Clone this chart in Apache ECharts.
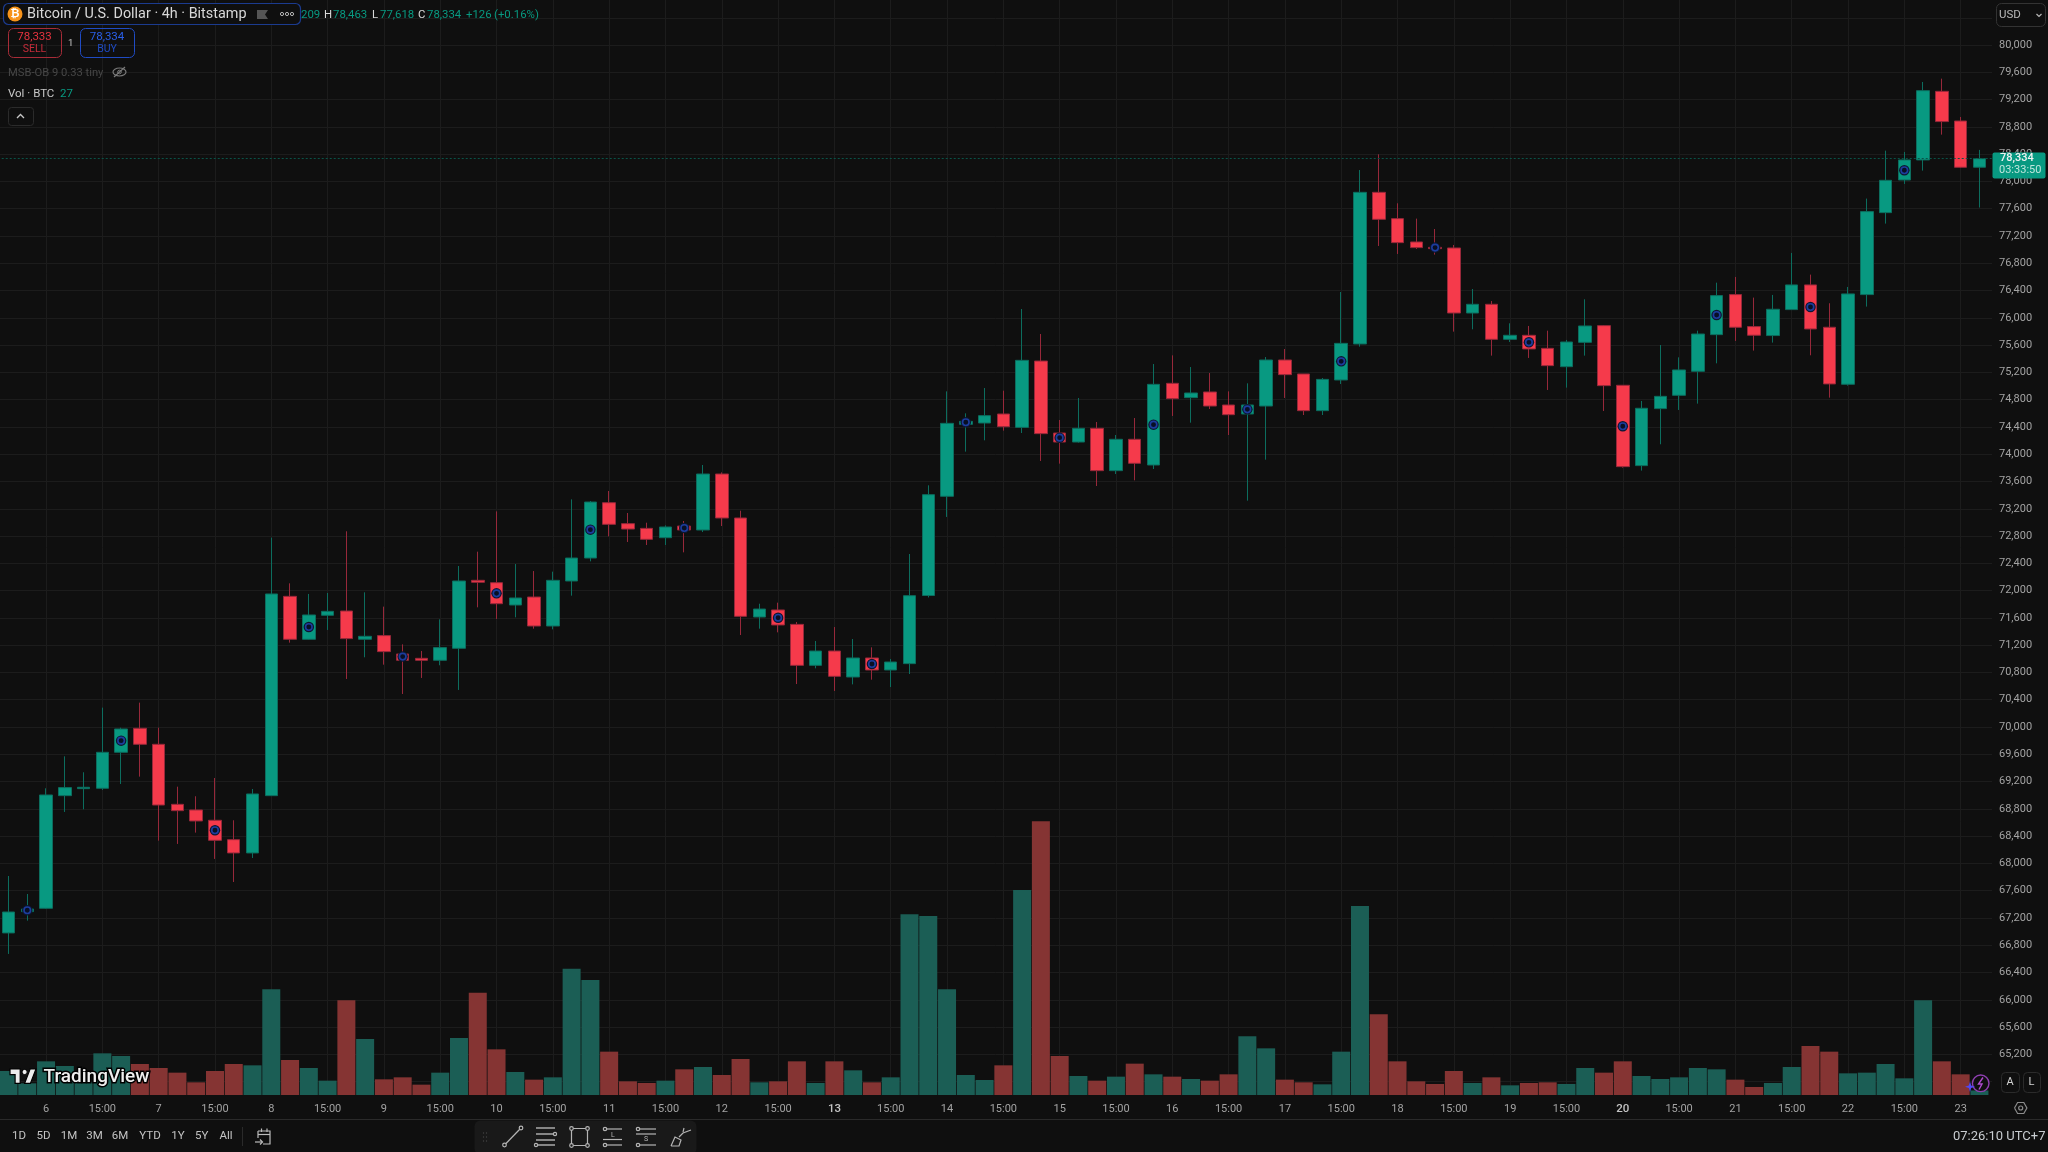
<!DOCTYPE html>
<html>
<head>
<meta charset="utf-8">
<title>Bitcoin / U.S. Dollar 4h</title>
<script src="https://cdn.jsdelivr.net/npm/echarts@6/dist/echarts.min.js"></script>
<style>
html,body{margin:0;padding:0;background:#0f0f0f;}
#chart{width:2048px;height:1152px;}
</style>
</head>
<body>
<div id="chart"></div>
<script>
// 4h BTC/USD bars, oldest first
const opens = [
66980,67292,67341,68993,69096,69101,69629,69981,69746,68866,
68783,68632,68348,68153,68993,71916,71286,71638,71701,71286,
71340,71071,71007,70978,71154,72151,72116,71789,71906,71481,
72141,72478,73289,72982,72913,72776,72947,72889,73710,73065,
71613,71716,71505,70904,71114,70733,71012,70836,70929,71928,
73383,74438,74458,74590,74394,75367,74311,74179,74380,73759,
74219,73842,75040,74830,74913,74722,74590,74707,75382,75177,
74639,75089,75617,77841,77455,77113,77034,77025,76071,76199,
75685,75744,75553,75284,75641,75886,75011,73833,74669,74864,
75216,75754,76341,75872,75740,76121,76483,75862,75026,76341,
77543,78022,78316,79322,78887,78209];
const closes = [
67287,67331,69003,69111,69116,69629,69971,69746,68856,68773,
68622,68338,68153,69018,71951,71286,71643,71696,71296,71330,
71105,70978,70978,71164,72141,72122,71808,71892,71481,72151,
72478,73299,72972,72903,72752,72933,72889,73710,73065,71623,
71730,71496,70904,71114,70743,71012,70836,70953,71926,73407,
74453,74482,74566,74404,75377,74302,74179,74380,73759,74219,
73867,75025,74815,74898,74707,74580,74722,75382,75167,74639,
75098,75626,77841,77445,77103,77030,77015,76071,76199,75685,
75744,75544,75299,75646,75881,75006,73818,74674,74849,75236,
75763,76326,75862,75745,76126,76483,75837,75031,76351,77558,
78017,78316,79332,78878,78208,78334];
const lows = [
66672,67160,67331,68754,68793,69076,69164,69272,68333,68285,
68451,68065,67727,68079,68990,71237,71280,71423,70704,71022,
70914,70484,70719,70905,70543,71755,71584,71608,71442,71432,
71926,72429,72796,72713,72669,72669,72561,72859,72947,71349,
71442,71388,70630,70860,70528,70625,70694,70586,70777,71900,
73080,74038,74204,74346,74311,73901,73862,74170,73534,73710,
73617,73783,74561,74463,74663,74282,73319,73920,74825,74575,
74575,75030,75578,77054,76937,77010,76927,75798,75832,75446,
75646,75412,74942,74977,75446,74634,73803,73760,74146,74649,
74742,75333,75661,75520,75637,76121,75451,74830,75006,76165,
77382,77964,78159,78687,78198,77618];
const highs = [
67815,67551,69101,69570,69336,70284,69990,70357,69990,69125,
68984,69252,68632,69091,72777,72107,71951,71965,72870,71975,
71765,71212,71115,71579,72361,72571,73162,72390,72287,72278,
73338,73314,73461,73138,72996,72957,73021,73842,73734,73172,
71808,71823,71540,71261,71466,71290,71168,70997,72537,73544,
74922,74600,74971,74932,76130,75763,74502,74825,74473,74282,
74531,75323,75450,75279,75191,74922,75040,75426,75543,75177,
75118,76379,78168,78398,77680,77455,77303,77069,76423,76247,
75920,75881,75812,75676,76272,75895,75011,74781,75602,75421,
75812,76516,76600,76297,76336,76952,76634,76214,76453,77749,
78452,78433,79459,79508,78946,78463];
const volumes = [
144,70,202,174,76,250,234,186,162,134,
76,144,186,178,634,210,162,86,568,336,
94,106,62,134,342,614,274,138,92,106,
758,690,260,82,72,86,154,168,120,216,
76,82,202,72,202,148,76,106,1084,1074,
634,120,90,178,1230,1642,234,114,86,110,
188,124,110,96,86,124,352,280,92,76,
64,260,1134,484,202,82,66,144,72,106,
58,72,76,66,162,134,202,114,96,106,
162,154,92,48,72,168,294,260,130,134,
186,100,568,202,124,27];
// MSB-OB study markers: bar index and price
const markerBars = [1,6,11,16,21,26,31,36,41,46,51,56,61,66,71,76,81,86,91,96,101];
const markerPrices = [67313,69800,68485,71467,71032,71960,72894,72918,71603,70924,74468,74243,74434,74658,75362,77030,75641,74410,76042,76160,78164];
// time-scale labels, one every third bar starting at bar 2
const tickLabels = ['6','15:00','7','15:00','8','15:00','9','15:00','10','15:00','11','15:00','12','15:00','13','15:00','14','15:00','15','15:00','16','15:00','17','15:00','18','15:00','19','15:00','20','15:00','21','15:00','22','15:00','23'];
const boldTicks = ['13','20'];
const lastPrice = 78334;

const UP = '#089981', DOWN = '#F53A4B', UP_EDGE = '#0C6D5E', DOWN_EDGE = '#97283A';
const VOL_UP = '#1B5E55', VOL_DOWN = '#853433';
const FONT = 'Roboto, sans-serif';

// bar i sits at x = i + 1 so the 12h ticks land on multiples of 3
const pos = i => i + 1;
const candleData = opens.map((o, i) => [pos(i), o, closes[i], lows[i], highs[i]]);
const volumeData = volumes.map((v, i) => ({
  value: [pos(i), v],
  itemStyle: { color: closes[i] >= opens[i] ? VOL_UP : VOL_DOWN }
}));
const markerData = markerBars.map((b, i) => [pos(b), markerPrices[i]]);

// ---- chrome helpers ----
const Z = 100;
const txt = (x, y, text, fill, size, extra = {}) => ({
  type: 'text', x, y, z: Z + 2, silent: true,
  style: { text, fill, font: `${extra.weight || 'normal'} ${size}px ${FONT}`,
           textAlign: extra.align || 'left', textVerticalAlign: 'middle',
           stroke: extra.stroke, lineWidth: extra.lw }
});
const box = (x, y, w, h, r, fill, stroke, lw = 1, z = Z) => ({
  type: 'rect', z, silent: true, shape: { x: x + .5, y: y + .5, width: w, height: h, r },
  style: { fill: fill || 'none', stroke: stroke || 'none', lineWidth: lw }
});
const poly = (pts, stroke, lw = 1.2, fill) => ({
  type: fill ? 'polygon' : 'polyline', z: Z + 1, silent: true, shape: { points: pts },
  style: { stroke, lineWidth: lw, fill: fill || 'none' }
});
const dot = (x, y, r, fill, stroke, lw = 1.2) => ({
  type: 'circle', z: Z + 1, silent: true, shape: { cx: x, cy: y, r },
  style: { fill: fill || 'none', stroke: stroke || 'none', lineWidth: lw }
});
const hline = (x1, x2, y, stroke, lw = 1, z = Z) => ({
  type: 'line', z, silent: true, shape: { x1, y1: y, x2, y2: y }, style: { stroke, lineWidth: lw }
});

const gfx = [];
// symbol header
gfx.push(box(3, 3, 297, 21, 5, '#0f0f0f', '#1B3B8F', 1.2));
gfx.push(dot(15, 14, 7.5, '#F7931A'));
gfx.push(txt(15, 14.5, '₿', '#fff', 11, { align: 'center', weight: 'bold' }));
gfx.push(txt(27, 14.8, 'Bitcoin / U.S. Dollar · 4h · Bitstamp', '#D9D9D9', 14.4));
gfx.push(poly([[257, 10], [268, 10], [265, 14.5], [268, 19], [257, 19]], 'none', 0, '#555'));
[282, 287, 292].forEach(x => gfx.push(dot(x, 14, 1.6, null, '#B5B5B5', 1)));
gfx.push(txt(301, 14.8, '209', UP, 11.4));
gfx.push(txt(324, 14.8, 'H', '#D9D9D9', 11.4));
gfx.push(txt(333, 14.8, '78,463', UP, 11.4));
gfx.push(txt(372, 14.8, 'L', '#D9D9D9', 11.4));
gfx.push(txt(380, 14.8, '77,618', UP, 11.4));
gfx.push(txt(418, 14.8, 'C', '#D9D9D9', 11.4));
gfx.push(txt(427, 14.8, '78,334', UP, 11.4));
gfx.push(txt(466, 14.8, '+126', UP, 11.4));
gfx.push(txt(494, 14.8, '(+0.16%)', UP, 11.4));
// order buttons
gfx.push(box(8, 28, 53, 29, 5, null, '#A82C38', 1));
gfx.push(txt(34.5, 37.5, '78,333', '#E5333F', 11.5, { align: 'center' }));
gfx.push(txt(34.5, 49.5, 'SELL', '#C52C3A', 10.5, { align: 'center' }));
gfx.push(txt(70.7, 44, '1', '#C8C8C8', 9.5, { align: 'center' }));
gfx.push(box(80, 28, 54, 29, 5, null, '#1F4BC4', 1));
gfx.push(txt(107, 37.5, '78,334', '#2A5FE8', 11.5, { align: 'center' }));
gfx.push(txt(107, 49.5, 'BUY', '#1F4BC4', 10.5, { align: 'center' }));
// study legend
gfx.push(txt(8, 73, 'MSB-OB 9 0.33 tiny', '#474747', 11.2));
gfx.push({ type: 'ellipse', z: Z + 1, silent: true, shape: { cx: 119.5, cy: 72, rx: 6.5, ry: 4 }, style: { fill: 'none', stroke: '#7A7A7A', lineWidth: 1.2 } });
gfx.push(dot(119.5, 72, 1.8, null, '#7A7A7A', 1));
gfx.push(poly([[114, 77], [125, 67]], '#7A7A7A', 1.2));
gfx.push(txt(8, 94, 'Vol · BTC', '#C8C8C8', 11.5));
gfx.push(txt(60, 94, '27', UP, 11.5));
gfx.push(box(8, 107, 25, 18, 3, null, '#2B2B2B', 1));
gfx.push(poly([[17, 118], [20.5, 114.5], [24, 118]], '#C8C8C8', 1.3));
// currency selector
gfx.push(box(1996, 3, 49, 23, 5, '#0f0f0f', '#333', 1));
gfx.push(txt(1999, 15, 'USD', '#B8B8B8', 11.5));
gfx.push(poly([[2036.5, 14], [2039, 16.5], [2041.5, 14]], '#B8B8B8', 1.2));
// last price tag
gfx.push(box(1992, 152, 53, 26, 2, UP, null));
gfx.push(txt(2000, 158.5, '78,334', '#F2F2F2', 11, { weight: '500' }));
gfx.push(txt(1999, 170.5, '03:33:50', '#BFE6DD', 11));
// watermark
gfx.push(poly([[10, 1069], [20.2, 1069], [20.2, 1083.4], [15.1, 1083.4], [15.1, 1074.6], [10, 1074.6]], '#000', 1.2, '#EDEDED'));
gfx.push(poly([[24.6, 1083.4], [30.1, 1069], [36, 1069], [30.4, 1083.4]], '#000', 1.2, '#EDEDED'));
gfx.push(dot(24.6, 1072, 2.6, '#EDEDED', '#000', 1));
gfx.push(txt(43.5, 1077, 'TradingView', '#EFEFEF', 19, { weight: '500', stroke: '#000', lw: 3 }));
// scale buttons
gfx.push(box(2001, 1072, 18, 20, 4, null, '#2B2B2B', 1));
gfx.push(txt(2010, 1082.5, 'A', '#D4D4D4', 11, { align: 'center' }));
gfx.push(box(2023, 1072, 17, 20, 4, null, '#2B2B2B', 1));
gfx.push(txt(2031.5, 1082.5, 'L', '#D4D4D4', 11, { align: 'center' }));
gfx.push(poly([[2014.5, 1108], [2017.6, 1102.5], [2023.8, 1102.5], [2026.9, 1108], [2023.8, 1113.5], [2017.6, 1113.5], [2014.5, 1108]], '#8C8C8C', 1.2));
gfx.push(dot(2020.7, 1108, 2, null, '#8C8C8C', 1.2));
// assistant badge over the newest volume bar
gfx.push(dot(1980.7, 1083.3, 8.3, '#0f0f0f', '#8E3FB0', 1.4));
gfx.push(poly([[1983, 1077.5], [1978.5, 1084], [1982, 1084], [1979, 1089.5]], '#B04CD0', 1.4));
gfx.push(poly([[1970, 1081.5], [1971.2, 1085.4], [1975, 1086.7], [1971.2, 1088], [1970, 1092], [1968.8, 1088], [1965, 1086.7], [1968.8, 1085.4]], 'none', 0, '#5148F0'));
// footer
gfx.push(hline(0, 2048, 1119.5, '#2A2A2A'));
[['1D', 19], ['5D', 43.6], ['1M', 69], ['3M', 94.6], ['6M', 120], ['YTD', 150], ['1Y', 178], ['5Y', 201.6], ['All', 226]]
  .forEach(([t, x]) => gfx.push(txt(x, 1136.5, t, '#C4C4C4', 11.5, { align: 'center' })));
gfx.push({ type: 'line', z: Z, silent: true, shape: { x1: 242.5, y1: 1127, x2: 242.5, y2: 1146 }, style: { stroke: '#2A2A2A', lineWidth: 1 } });
gfx.push(poly([[258, 1131], [270, 1131], [270, 1144], [263, 1144]], '#BDBDBD', 1.2));
gfx.push(poly([[258, 1138], [258, 1131]], '#BDBDBD', 1.2));
gfx.push(poly([[258, 1134.5], [270, 1134.5]], '#BDBDBD', 1.2));
gfx.push(poly([[255, 1142], [262, 1142]], '#BDBDBD', 1.2));
gfx.push(poly([[260, 1139.5], [262.5, 1142], [260, 1144.5]], '#BDBDBD', 1.2));
gfx.push(poly([[261.5, 1128.5], [261.5, 1132]], '#BDBDBD', 1.2));
gfx.push(poly([[267, 1128.5], [267, 1132]], '#BDBDBD', 1.2));
gfx.push(txt(1953, 1136.5, '07:26:10 UTC+7', '#C8CCD0', 13));
// drawing toolbar
gfx.push(box(474, 1120, 222, 34, 6, '#191919', null, 0));
[1133, 1137, 1141].forEach(y => { gfx.push(dot(483.5, y, .7, '#444')); gfx.push(dot(486.5, y, .7, '#444')); });
const IC = '#B5B5B5';
gfx.push(poly([[505.5, 1144], [520, 1129]], IC)); gfx.push(dot(504.5, 1145, 1.8, '#191919', IC)); gfx.push(dot(521, 1128, 1.8, '#191919', IC));
[1128, 1134, 1140, 1145].forEach((y, k) => gfx.push(poly([[536, y], [555, y]], IC, 1.4)));
gfx.push(dot(555, 1134, 1.6, '#191919', IC)); gfx.push(dot(536, 1145, 1.6, '#191919', IC));
gfx.push(box(571, 1128, 16, 17, 0, null, IC, 1.2, Z + 1));
[[571.5, 1128.5], [587.5, 1128.5], [571.5, 1145.5], [587.5, 1145.5]].forEach(([x, y]) => gfx.push(dot(x, y, 1.8, '#191919', IC)));
[[605, 1129], [605, 1145]].forEach(([x, y]) => { gfx.push(poly([[x + 2, y], [622, y]], IC)); gfx.push(dot(x, y, 1.7, '#191919', IC)); });
gfx.push(poly([[603, 1139.5], [622, 1139.5]], IC));
gfx.push(txt(613, 1135, 'L', IC, 7, { align: 'center' }));
[[638, 1129], [638, 1145]].forEach(([x, y]) => { gfx.push(poly([[x + 2, y], [656, y]], IC)); gfx.push(dot(x, y, 1.7, '#191919', IC)); });
gfx.push(poly([[636, 1134], [656, 1134]], IC));
gfx.push(txt(646, 1139.5, 'S', IC, 7, { align: 'center' }));
gfx.push(poly([[671, 1146], [675, 1137], [681, 1140], [679, 1146], [671, 1146]], IC));
gfx.push(poly([[679, 1137], [683, 1133], [691, 1130]], IC));
gfx.push(poly([[683, 1132], [684, 1128]], IC));

const left = -10.27, right = 56;
const xMax = 106.67;
const SPLIT = '#1C1C1C';

const option = {
  backgroundColor: '#0f0f0f',
  animation: false,
  grid: [
    // price pane: the ends fall on whole 400-point grid levels
    { left, right, top: -9.46, height: 1091.04, outerBoundsMode: 'none' },
    // volume pane shares the time scale and carries the time labels
    { left, right, top: 0, height: 1095, outerBoundsMode: 'none' }
  ],
  xAxis: [
    { type: 'value', gridIndex: 0, min: 0, max: xMax, interval: 3, show: false, splitLine: { show: false } },
    {
      type: 'value', gridIndex: 1, min: 0, max: xMax, interval: 3,
      axisLine: { show: false }, axisTick: { show: false },
      splitLine: { show: true, showMinLine: false, showMaxLine: false, lineStyle: { color: SPLIT, width: 1 } },
      axisLabel: {
        show: true, margin: 8.5, showMinLabel: false, showMaxLabel: false,
        color: '#A3A3A3', fontFamily: FONT, fontSize: 11,
        rich: { b: { color: '#C4C4C4', fontWeight: 500, fontFamily: FONT, fontSize: 11.5 } },
        formatter: v => {
          const t = tickLabels[v / 3 - 1];
          if (t === undefined) return '';
          return boldTicks.includes(t) ? `{b|${t}}` : t;
        }
      }
    }
  ],
  yAxis: [
    {
      type: 'value', gridIndex: 0, position: 'right', min: 64800, max: 80800, interval: 400,
      axisLine: { show: false }, axisTick: { show: false },
      splitLine: { show: true, lineStyle: { color: SPLIT, width: 1 } },
      axisLabel: {
        margin: 7, color: '#A3A3A3', fontFamily: FONT, fontSize: 11,
        formatter: v => (v > 80000 || v < 65200) ? '' : v.toLocaleString('en-US')
      }
    },
    { type: 'value', gridIndex: 1, min: 0, max: 6570, show: false, splitLine: { show: false } }
  ],
  series: [
    {
      type: 'bar', name: 'Vol', xAxisIndex: 1, yAxisIndex: 1, data: volumeData,
      barWidth: 18, z: 1, silent: true
    },
    {
      type: 'candlestick', name: 'BTCUSD', xAxisIndex: 0, yAxisIndex: 0, z: 3, silent: true,
      data: candleData, encode: { x: 0, y: [1, 2, 3, 4] }, barWidth: 13,
      itemStyle: { color: UP, color0: DOWN, borderColor: UP_EDGE, borderColor0: DOWN_EDGE, borderWidth: 1 },
      markLine: {
        silent: true, symbol: 'none', animation: false, z: 4,
        label: { show: false },
        lineStyle: { color: '#0A5347', type: [2, 2], width: 1 },
        data: [{ yAxis: lastPrice }]
      }
    },
    {
      type: 'scatter', name: 'MSB-OB halo', xAxisIndex: 0, yAxisIndex: 0, z: 5, silent: true,
      data: markerData, symbol: 'circle', symbolSize: 10.5,
      itemStyle: { color: '#0D1630', opacity: 1 }
    },
    {
      type: 'scatter', name: 'MSB-OB', xAxisIndex: 0, yAxisIndex: 0, z: 6, silent: true,
      data: markerData, symbol: 'circle', symbolSize: 6.5,
      itemStyle: { color: '#080F24', borderColor: '#1C3D9E', borderWidth: 1.6, opacity: 1 }
    }
  ],
  graphic: { elements: gfx }
};

const chart = echarts.init(document.getElementById('chart'), null, { renderer: 'canvas' });
chart.setOption(option);
</script>
</body>
</html>
